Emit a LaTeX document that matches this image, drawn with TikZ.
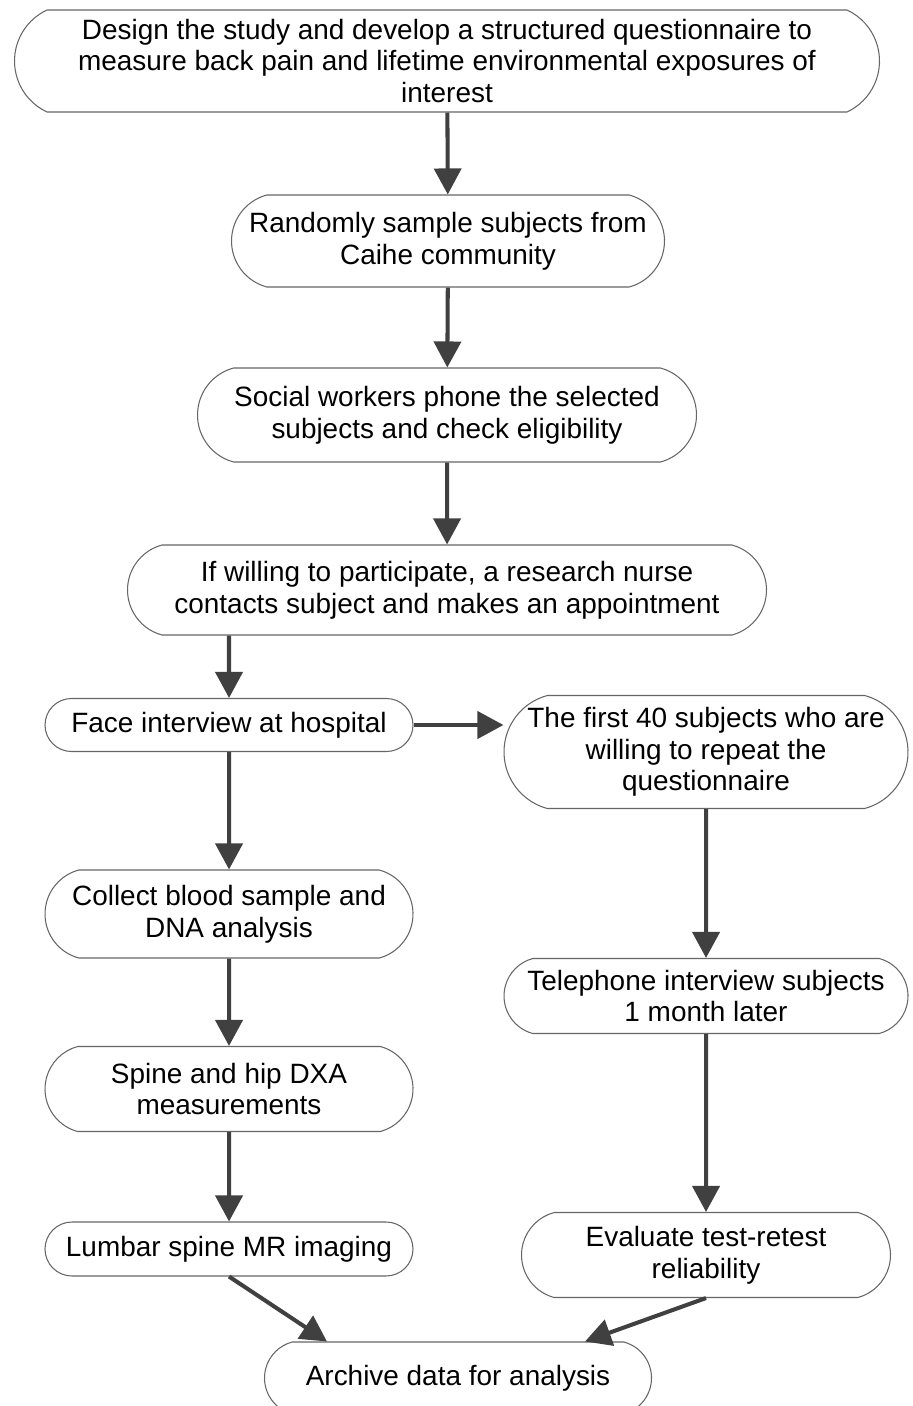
\documentclass[tikz,border=0pt]{standalone}
\usepackage{fontspec}
\setmainfont{Liberation Sans}
\usepackage{xcolor}
\usetikzlibrary{arrows.meta,positioning,shapes.misc}
\definecolor{boxline}{HTML}{666666}
\definecolor{arrowcol}{HTML}{404040}

\begin{document}
\begin{tikzpicture}[
  stepbox/.style={rounded rectangle, rounded rectangle arc length=150, draw=boxline, line width=0.6pt,
    fill=white, align=center, inner sep=0pt, font=\fontsize{15.9}{18}\selectfont},
  flatbox/.style={stepbox, rounded rectangle arc length=130},
  flow/.style={-{Triangle[length=0.52cm,width=0.54cm]}, draw=arrowcol, line width=2.3pt}
]
  \useasboundingbox (0,0) rectangle (18.24,-28.12);

  % Main column
  \node[flatbox, minimum width=17.3cm, minimum height=2.04cm] (design) at (8.94,-1.22)
    {Design the study and develop a structured questionnaire to\\measure back pain and lifetime environmental exposures of\\interest};
  \node[stepbox, minimum width=8.66cm, minimum height=1.84cm] (sample) at (8.96,-4.82)
    {Randomly sample subjects from\\Caihe community};
  \node[stepbox, minimum width=9.98cm, minimum height=1.88cm] (phone) at (8.94,-8.30)
    {Social workers phone the selected\\subjects and check eligibility};
  \node[stepbox, minimum width=12.78cm, minimum height=1.8cm] (nurse) at (8.94,-11.80)
    {If willing to participate, a research nurse\\contacts subject and makes an appointment};

  % Left branch
  \node[stepbox, rounded rectangle arc length=180, minimum width=7.36cm, minimum height=1.06cm] (face) at (4.58,-14.50)
    {Face interview at hospital};
  \node[stepbox, minimum width=7.36cm, minimum height=1.76cm] (blood) at (4.58,-18.28)
    {Collect blood sample and\\DNA analysis};
  \node[stepbox, minimum width=7.36cm, minimum height=1.7cm] (dxa) at (4.58,-21.78)
    {Spine and hip DXA\\measurements};
  \node[stepbox, rounded rectangle arc length=180, minimum width=7.36cm, minimum height=1.08cm] (mri) at (4.58,-24.98)
    {Lumbar spine MR imaging};

  % Right branch
  \node[stepbox, minimum width=8.08cm, minimum height=2.26cm] (first) at (14.12,-15.04)
    {The first 40 subjects who are\\willing to repeat the\\questionnaire};
  \node[stepbox, minimum width=8.08cm, minimum height=1.5cm] (phonei) at (14.12,-19.92)
    {Telephone interview subjects\\1 month later};
  \node[stepbox, minimum width=7.38cm, minimum height=1.7cm] (retest) at (14.12,-25.10)
    {Evaluate test-retest\\reliability};

  % End
  \node[stepbox, minimum width=7.74cm, minimum height=1.44cm] (archive) at (9.16,-27.56)
    {Archive data for analysis};

  % Arrows
  \draw[flow] (design) -- (sample);
  \draw[flow] (sample) -- (phone);
  \draw[flow] (phone) -- (nurse);
  \draw[flow] (nurse.south -| face.north) -- (face);
  \draw[flow] (face) -- (blood);
  \draw[flow] (blood) -- (dxa);
  \draw[flow] (dxa) -- (mri);
  \draw[flow] (face.east) -- (face.east -| first.west);
  \draw[flow] (first) -- (phonei);
  \draw[flow] (phonei) -- (retest);
  \draw[flow] (mri.south) -- ([xshift=-2.62cm]archive.north);
  \draw[flow] (retest.south) -- ([xshift=2.54cm]archive.north);

\end{tikzpicture}
\end{document}
